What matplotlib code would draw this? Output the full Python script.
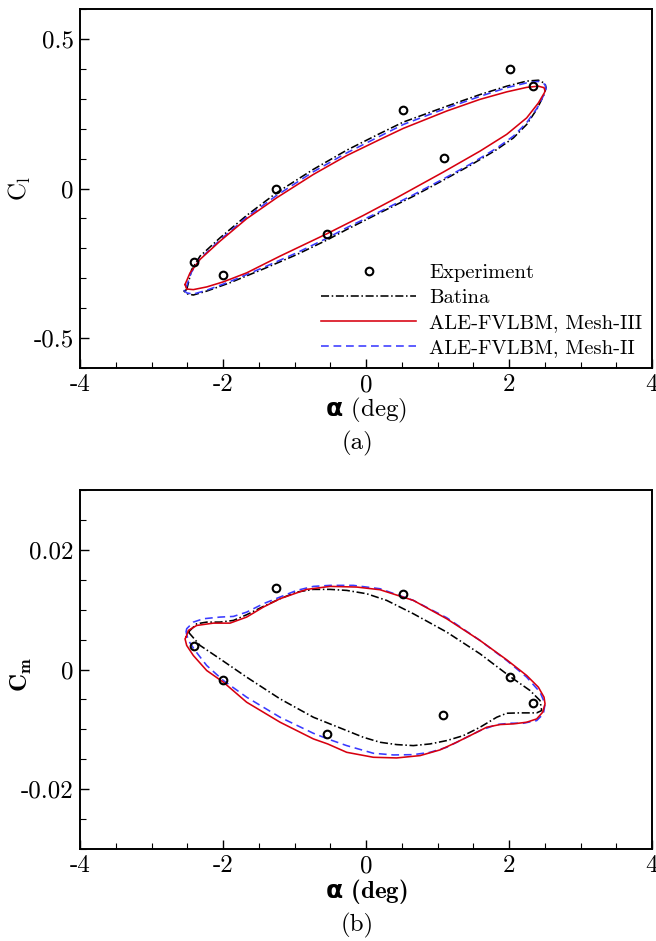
import numpy as np
import matplotlib
matplotlib.use('Agg')
import matplotlib.pyplot as plt
from matplotlib.lines import Line2D

# ---------------- data ----------------
# Experiment
exp_cl_alpha = [-2.41, -2.00, -1.26, -0.54, 0.52, 1.09, 2.01, 2.34]
exp_cl = [-0.245, -0.290, 0.000, -0.152, 0.261, 0.102, 0.401, 0.344]
exp_cm_alpha = [-2.41, -2.00, -1.26, -0.54, 0.52, 1.08, 2.01, 2.33]
exp_cm = [0.0040, -0.0018, 0.0137, -0.0108, 0.0127, -0.0076, -0.0013, -0.0056]

# Batina, Cl loop
bat_cl_alpha = [-2.508, -2.438, -2.321, -2.042, -1.669, -1.249, -0.736, -0.270, 0.196, 0.522,
                1.129, 1.595, 1.968, 2.247, 2.411, 2.504, 2.518, 2.481, 2.387, 2.247, 2.061,
                1.828, 1.455, 1.082, 0.662, 0.196, -0.270, -0.536, -0.969, -1.436, -1.902,
                -2.228, -2.415, -2.508, -2.545]
bat_cl = [-0.338, -0.271, -0.226, -0.165, -0.090, -0.014, 0.064, 0.128, 0.184, 0.222,
          0.275, 0.314, 0.342, 0.359, 0.362, 0.351, 0.337, 0.309, 0.264, 0.214, 0.169,
          0.130, 0.077, 0.028, -0.026, -0.081, -0.137, -0.171, -0.221, -0.269, -0.315,
          -0.343, -0.356, -0.352, -0.343]

# ALE-FVLBM Mesh-III, Cl loop
m3_cl_alpha = [-2.531, -2.461, -2.321, -2.042, -1.669, -1.249, -0.736, -0.270, 0.196, 0.522,
               1.129, 1.595, 1.968, 2.247, 2.411, 2.490, 2.504, 2.495, 2.411, 2.247, 1.968,
               1.595, 1.082, 0.429, -0.037, -0.536, -1.202, -1.669, -1.995, -2.228, -2.415,
               -2.508]
m3_cl = [-0.321, -0.282, -0.237, -0.176, -0.101, -0.031, 0.047, 0.110, 0.164, 0.201,
         0.259, 0.298, 0.323, 0.338, 0.342, 0.337, 0.326, 0.320, 0.286, 0.236, 0.181,
         0.125, 0.055, -0.031, -0.090, -0.150, -0.226, -0.282, -0.312, -0.329, -0.338,
         -0.336]

# ALE-FVLBM Mesh-II, Cl loop
m2_cl_alpha = [-2.517, -2.447, -2.321, -2.042, -1.669, -1.249, -0.736, -0.270, 0.196, 0.522,
               1.129, 1.595, 1.968, 2.247, 2.411, 2.504, 2.518, 2.490, 2.397, 2.247, 2.061,
               1.828, 1.455, 1.082, 0.662, 0.196, -0.270, -0.536, -0.969, -1.436, -1.902,
               -2.228, -2.415, -2.508, -2.545]
m2_cl = [-0.332, -0.282, -0.235, -0.172, -0.096, -0.023, 0.056, 0.119, 0.175, 0.214,
         0.269, 0.308, 0.337, 0.353, 0.358, 0.348, 0.333, 0.314, 0.270, 0.220, 0.175,
         0.135, 0.081, 0.032, -0.021, -0.077, -0.131, -0.165, -0.215, -0.264, -0.311,
         -0.340, -0.353, -0.349, -0.340]

# Batina, Cm loop
bat_cm_alpha = [-2.484, -2.368, -2.228, -2.042, -1.855, -1.669, -1.436, -1.202, -0.969, -0.736,
                -0.503, -0.270, 0.010, 0.289, 0.662, 1.129, 1.595, 2.014, 2.294, 2.434,
                2.457, 2.387, 2.154, 1.968, 1.828, 1.595, 1.362, 1.129, 0.896, 0.662,
                0.429, 0.196, -0.037, -0.270, -0.736, -1.202, -1.669, -2.042, -2.321]
bat_cm = [0.00625, 0.00764, 0.00792, 0.00792, 0.00820, 0.00915, 0.01054, 0.01183, 0.01294, 0.01339,
          0.01339, 0.01322, 0.01266, 0.01155, 0.00932, 0.00625, 0.00262, -0.00117, -0.00351, -0.00519,
          -0.00686, -0.00725, -0.00725, -0.00731, -0.00798, -0.00965, -0.01105, -0.01188, -0.01244, -0.01272,
          -0.01255, -0.01216, -0.01133, -0.01021, -0.00798, -0.00491, -0.00128, 0.00178, 0.00402]

# ALE-FVLBM Mesh-III, Cm loop
m3_cm_alpha = [-2.517, -2.484, -2.368, -2.135, -1.902, -1.669, -1.436, -1.202, -0.829, -0.503,
               -0.130, 0.196, 0.662, 1.129, 1.595, 1.968, 2.247, 2.411, 2.490, 2.504,
               2.471, 2.387, 2.247, 2.061, 1.875, 1.688, 1.502, 1.268, 1.035, 0.756,
               0.429, 0.103, -0.270, -0.536, -0.736, -1.202, -1.669, -1.995, -2.228, -2.415,
               -2.508, -2.531]
m3_cm = [0.00541, 0.00653, 0.00736, 0.00775, 0.00775, 0.00876, 0.01043, 0.01183, 0.01339, 0.01389,
         0.01378, 0.01333, 0.01155, 0.00848, 0.00485, 0.00162, -0.00100, -0.00296, -0.00463, -0.00575,
         -0.00714, -0.00826, -0.00881, -0.00909, -0.00920, -0.00965, -0.01077, -0.01216, -0.01344, -0.01439,
         -0.01478, -0.01467, -0.01384, -0.01244, -0.01160, -0.00881, -0.00547, -0.00212, -0.00017, 0.00234,
         0.00402, 0.00513]

# ALE-FVLBM Mesh-II, Cm loop
m2_cm_alpha = [-2.517, -2.508, -2.415, -2.275, -2.042, -1.855, -1.669, -1.436, -1.202, -0.969,
               -0.736, -0.503, -0.177, 0.196, 0.662, 1.129, 1.595, 1.968, 2.247, 2.434,
               2.504, 2.481, 2.387, 2.201, 2.014, 1.828, 1.595, 1.362, 1.129, 0.896,
               0.662, 0.383, 0.103, -0.270, -0.536, -0.736, -1.202, -1.669, -1.995, -2.228,
               -2.391, -2.484]
m2_cm = [0.00625, 0.00681, 0.00792, 0.00848, 0.00876, 0.00887, 0.00959, 0.01099, 0.01211, 0.01322,
         0.01389, 0.01406, 0.01406, 0.01350, 0.01155, 0.00865, 0.00485, 0.00151, -0.00128, -0.00379,
         -0.00575, -0.00742, -0.00854, -0.00898, -0.00898, -0.00920, -0.01021, -0.01160, -0.01300, -0.01384,
         -0.01423, -0.01428, -0.01400, -0.01272, -0.01160, -0.01066, -0.00798, -0.00463, -0.00184, 0.00067,
         0.00318, 0.00485]

x_major = [-4, -2, 0, 2, 4]
x_major_labels = ['-4', '-2', '0', '2', '4']
cl_major = [-0.5, 0, 0.5]
cl_major_labels = ['-0.5', '0', '0.5']
cm_major = [-0.02, 0, 0.02]
cm_major_labels = ['-0.02', '0', '0.02']

legend_labels = ['Experiment', 'Batina', 'ALE-FVLBM, Mesh-III', 'ALE-FVLBM, Mesh-II']

# ---------------- style ----------------
plt.rcParams['font.family'] = ['cmr10', 'DejaVu Serif']
plt.rcParams['mathtext.fontset'] = 'custom'
plt.rcParams['mathtext.rm'] = 'cmr10'
plt.rcParams['mathtext.bf'] = 'cmb10'
plt.rcParams['mathtext.sf'] = 'DejaVu Sans:bold'
plt.rcParams['lines.scale_dashes'] = False
plt.rcParams['axes.unicode_minus'] = False

RED = '#d7000f'
BLUE = '#3a3aff'
LW = 1.15
DASHDOT = (0, (5.8, 1.9, 1.1, 1.9))
DASHED = (0, (5.6, 3.4))

fig = plt.figure(figsize=(6.56, 9.41), dpi=100)
ax1 = fig.add_axes([80 / 656, 1 - 368 / 941, 572 / 656, 359 / 941])
ax2 = fig.add_axes([80 / 656, 1 - 849 / 941, 572 / 656, 359 / 941])


def closed(a):
    return list(a) + [a[0]]


def style_axes(ax, ylim, ymaj, ymaj_lab, yminor_step):
    ax.set_xlim(-4, 4)
    ax.set_ylim(*ylim)
    ax.set_xticks(x_major, labels=x_major_labels)
    ax.set_xticks(np.arange(-4, 4.001, 0.5), minor=True)
    ax.set_yticks(ymaj, labels=ymaj_lab)
    ax.set_yticks(np.arange(ylim[0], ylim[1] + yminor_step / 2, yminor_step), minor=True)
    ax.tick_params(which='both', direction='in', top=False, right=False,
                   labelsize=18, pad=4.5)
    ax.tick_params(which='major', length=6.5, width=1.0)
    ax.tick_params(which='minor', length=4.0, width=0.8)
    for s in ax.spines.values():
        s.set_linewidth(1.4)


# ---- panel (a) ----
ax1.plot(closed(bat_cl_alpha), closed(bat_cl), color='black', lw=LW, linestyle=DASHDOT)
ax1.plot(closed(m2_cl_alpha), closed(m2_cl), color=BLUE, lw=LW, linestyle=DASHED)
ax1.plot(closed(m3_cl_alpha), closed(m3_cl), color=RED, lw=LW)
ax1.plot(exp_cl_alpha, exp_cl, linestyle='none', marker='o', ms=5.5, mfc='none',
         mec='black', mew=1.5)
style_axes(ax1, (-0.6, 0.6), cl_major, cl_major_labels, 0.1)
ax1.set_xlabel(r'$\mathsf{\alpha}$ (deg)', fontsize=18, labelpad=0)
ax1.set_ylabel(r'$\mathrm{C}_\mathrm{l}$', fontsize=18)
ax1.yaxis.set_label_coords(-0.082, 0.5)

handles = [
    Line2D([], [], linestyle='none', marker='o', ms=5.5, mfc='none', mec='black', mew=1.5),
    Line2D([], [], color='black', lw=LW, linestyle=DASHDOT),
    Line2D([], [], color=RED, lw=LW),
    Line2D([], [], color=BLUE, lw=LW, linestyle=DASHED),
]
ax1.legend(handles, legend_labels, loc='lower right', bbox_to_anchor=(0.983, 0.03),
           frameon=False, fontsize=14.8, handlelength=4.6, handletextpad=0.65,
           labelspacing=0.32, borderpad=0, borderaxespad=0)

# ---- panel (b) ----
ax2.plot(closed(bat_cm_alpha), closed(bat_cm), color='black', lw=LW, linestyle=DASHDOT)
ax2.plot(closed(m2_cm_alpha), closed(m2_cm), color=BLUE, lw=LW, linestyle=DASHED)
ax2.plot(closed(m3_cm_alpha), closed(m3_cm), color=RED, lw=LW)
ax2.plot(exp_cm_alpha, exp_cm, linestyle='none', marker='o', ms=5.5, mfc='none',
         mec='black', mew=1.5)
style_axes(ax2, (-0.03, 0.03), cm_major, cm_major_labels, 0.005)
ax2.set_xlabel(r'$\mathsf{\alpha}$ (deg)', fontsize=18, labelpad=0,
               family=['cmb10', 'DejaVu Serif'])
ax2.set_ylabel(r'$\mathbf{C}_\mathbf{m}$', fontsize=18)
ax2.yaxis.set_label_coords(-0.080, 0.485)

fig.text(357 / 656, 1 - 443 / 941, '(a)', ha='center', va='center', fontsize=18)
fig.text(357 / 656, 1 - 925 / 941, '(b)', ha='center', va='center', fontsize=18)

fig.savefig('out.png', dpi=100)
